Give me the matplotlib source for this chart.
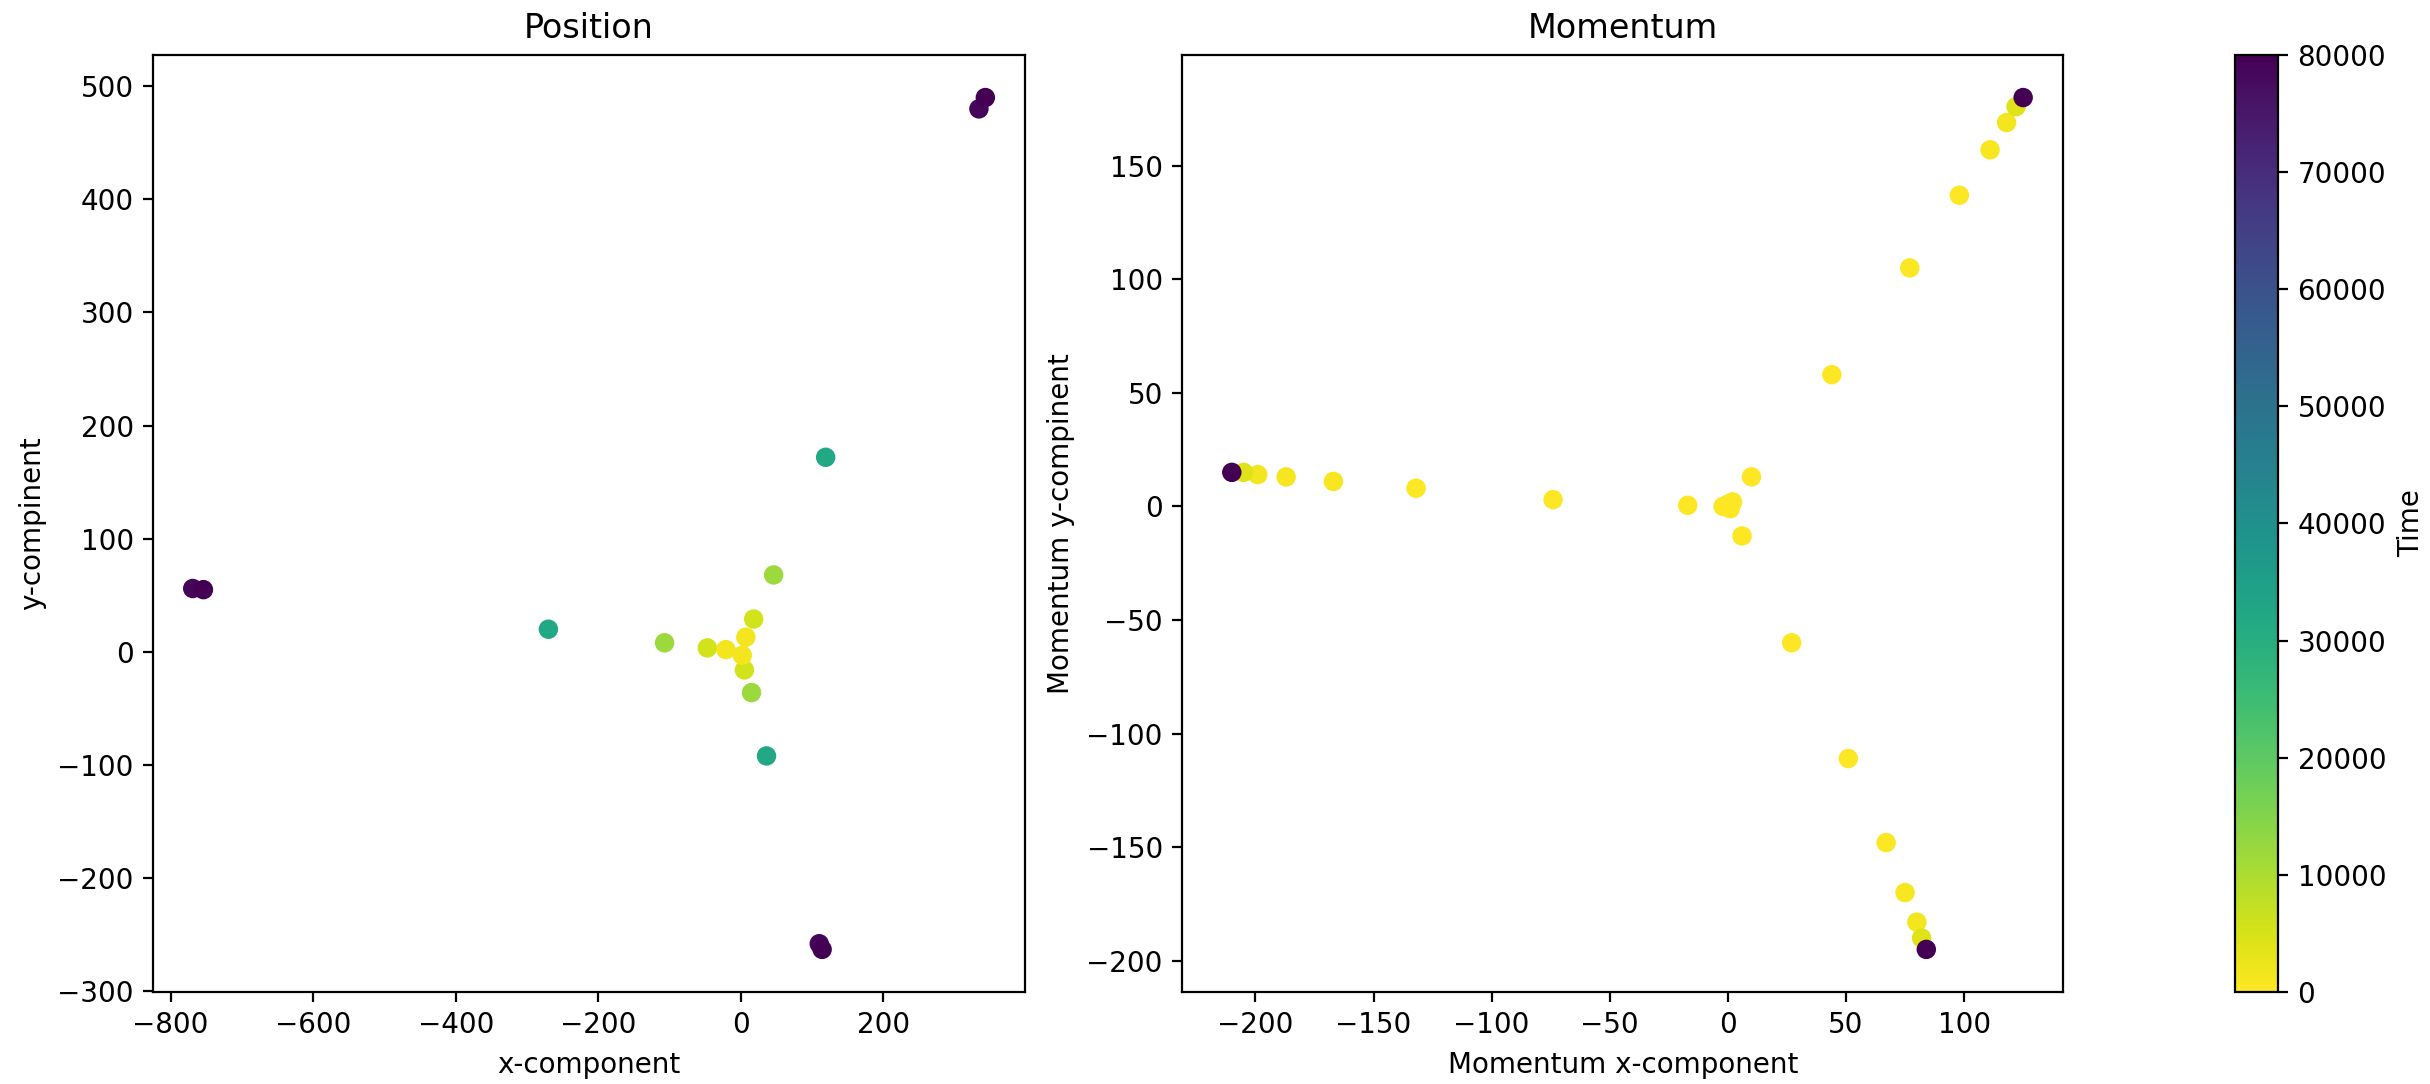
import matplotlib
matplotlib.use("Agg")
import matplotlib.pyplot as plt
import numpy as np

# position snapshots (x, y) and the time of each point
pos_x = [-769, -754, 334, 343, 110, 114,
         119, -270, 36,
         46, -107, 15,
         18, -47, 5,
         7, -21, 2]
pos_y = [56, 55, 480, 490, -258, -263,
         172, 20, -92,
         68, 8, -36,
         29, 3.5, -16,
         13, 2, -3]
pos_t = [79000, 80000, 79000, 80000, 79000, 80000,
         32000, 32000, 32000,
         12000, 12000, 12000,
         5500, 5500, 5500,
         1500, 1500, 1500]

# momentum snapshots
mom_x = [-210, -205, -199, -187, -167, -132, -74, -17,
         -2, 0, 1, 2, 10, 6,
         27, 51, 67, 75, 80, 82, 84,
         44, 77, 98, 111, 118, 122, 125]
mom_y = [15, 15, 14, 13, 11, 8, 3, 0.5,
         0, 1, -1, 2, 13, -13,
         -60, -111, -148, -170, -183, -190, -195,
         58, 105, 137, 157, 169, 176, 180]
mom_t = [80000, 4000, 1500, 1000, 800, 600, 400, 200,
         0, 0, 0, 0, 100, 100,
         200, 400, 600, 800, 1500, 4000, 80000,
         200, 400, 600, 800, 1500, 4000, 80000]

fig = plt.figure(figsize=(12.15, 5.42), dpi=200)
ax1 = fig.add_axes([0.063, 0.0849, 0.3588, 0.8644])
ax2 = fig.add_axes([0.4865, 0.0849, 0.3626, 0.8644])
cax = fig.add_axes([0.9198, 0.0849, 0.0177, 0.8644])

sc = ax1.scatter(pos_x, pos_y, c=pos_t, cmap="viridis_r", vmin=0, vmax=80000)
ax1.set_title("Position")
ax1.set_xlabel("x-component")
ax1.set_ylabel("y-compinent")

# draw momentum points in time order so late ones are on top
order = np.argsort(mom_t, kind="stable")
ax2.scatter(np.array(mom_x)[order], np.array(mom_y)[order], c=np.array(mom_t)[order],
            cmap="viridis_r", vmin=0, vmax=80000)
ax2.set_xlim(-231, 142)
ax2.set_title("Momentum")
ax2.set_xlabel("Momentum x-component")
ax2.set_ylabel("Momentum y-compinent")

cb = fig.colorbar(sc, cax=cax)
cb.set_label("Time")
cb.set_ticks(np.arange(0, 80001, 10000))

plt.savefig("out.png", dpi=200)
plt.close()
